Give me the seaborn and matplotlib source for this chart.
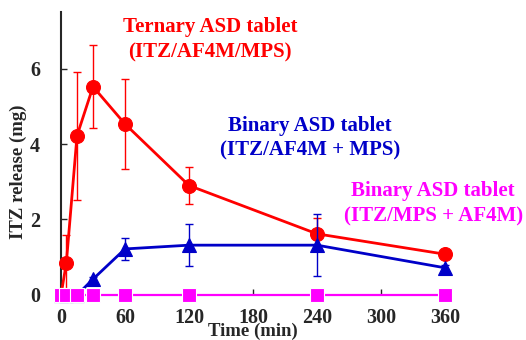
import numpy as np
import pandas as pd
import matplotlib
matplotlib.use("Agg")
import matplotlib.pyplot as plt
import seaborn as sns

# Release profiles (mean ± SD)
time_min = [0, 5, 15, 30, 60, 120, 240, 360]
ternary = [0.0, 0.85, 4.22, 5.52, 4.53, 2.90, 1.62, 1.08]
ternary_sd = [0.0, 0.75, 1.70, 1.10, 1.20, 0.48, 0.43, 0.08]
binary_mps = [0.0, 0.0, 0.0, 0.42, 1.22, 1.32, 1.32, 0.72]
binary_mps_sd = [0.0, 0.0, 0.0, 0.05, 0.28, 0.56, 0.82, 0.08]
binary_af4m = [0.0, 0.0, 0.0, 0.0, 0.0, 0.0, 0.0, 0.0]
binary_af4m_sd = [0.0, 0.0, 0.0, 0.0, 0.0, 0.0, 0.0, 0.0]

series_names = ["ternary", "binary_mps", "binary_af4m"]
series_labels = [
    "Ternary ASD tablet\n(ITZ/AF4M/MPS)",
    "Binary ASD tablet\n(ITZ/AF4M + MPS)",
    "Binary ASD tablet\n(ITZ/MPS + AF4M)",
]
x_ticks = [0, 60, 120, 180, 240, 300, 360]
y_ticks = [0, 2, 4, 6]

colors = {"ternary": "#FF0000", "binary_mps": "#0000C8", "binary_af4m": "#FF00FF"}
markers = {"ternary": "o", "binary_mps": "^", "binary_af4m": "s"}

df = pd.DataFrame({
    "time": time_min * 3,
    "release": ternary + binary_mps + binary_af4m,
    "sd": ternary_sd + binary_mps_sd + binary_af4m_sd,
    "series": sum([[n] * len(time_min) for n in series_names], []),
})

sns.set_style("ticks")
plt.rcParams["font.family"] = ["Liberation Serif", "DejaVu Serif"]
plt.rcParams["font.weight"] = "bold"

fig = plt.figure(figsize=(5.26, 3.40), dpi=100)
ax = fig.add_axes([0.116, 0.1324, 0.730, 0.8326])

zorders = {"ternary": 3, "binary_mps": 4, "binary_af4m": 6}
for name in series_names:
    sub = df[df["series"] == name]
    ax.errorbar(sub["time"], sub["release"], yerr=sub["sd"], fmt="none",
                ecolor=colors[name], elinewidth=1.0, capsize=3, capthick=1.0,
                zorder=zorders[name] - 0.5, clip_on=False)
    sns.lineplot(data=sub, x="time", y="release", ax=ax, color=colors[name],
                 marker=markers[name], markersize=10 if name != "binary_mps" else 9.5,
                 markeredgecolor=colors[name] if name != "binary_af4m" else "white",
                 markeredgewidth=0.8, linewidth=2.0 if name != "binary_af4m" else 1.6,
                 errorbar=None, legend=False, zorder=zorders[name], clip_on=False)

ax.set_xlim(0, 360)
ax.set_ylim(0, 7.5)
ax.set_xticks(x_ticks)
ax.set_yticks(y_ticks)
ax.tick_params(axis="both", direction="in", length=4, width=1.0, labelsize=14.5)
ax.tick_params(axis="x", pad=9.5)
ax.tick_params(axis="y", pad=15)
for lbl in ax.get_xticklabels() + ax.get_yticklabels():
    lbl.set_fontweight("bold")

for side in ["top", "right", "bottom"]:
    ax.spines[side].set_visible(False)
ax.spines["left"].set_linewidth(1.5)

ax.set_xlabel("Time (min)", fontsize=13.5, fontweight="bold")
ax.xaxis.set_label_coords(0.50, -0.098)
ax.set_ylabel("ITZ release (mg)", fontsize=13.5, fontweight="bold")
ax.yaxis.set_label_coords(-0.089, 0.435)

label_pos = [(0.388, 0.901), (0.648, 0.553), (0.969, 0.322)]
for name, text, (tx, ty) in zip(series_names, series_labels, label_pos):
    ax.text(tx, ty, text, transform=ax.transAxes, color=colors[name],
            fontsize=15, fontweight="bold", ha="center", va="center",
            linespacing=1.33)

fig.savefig("out.png", dpi=100)
